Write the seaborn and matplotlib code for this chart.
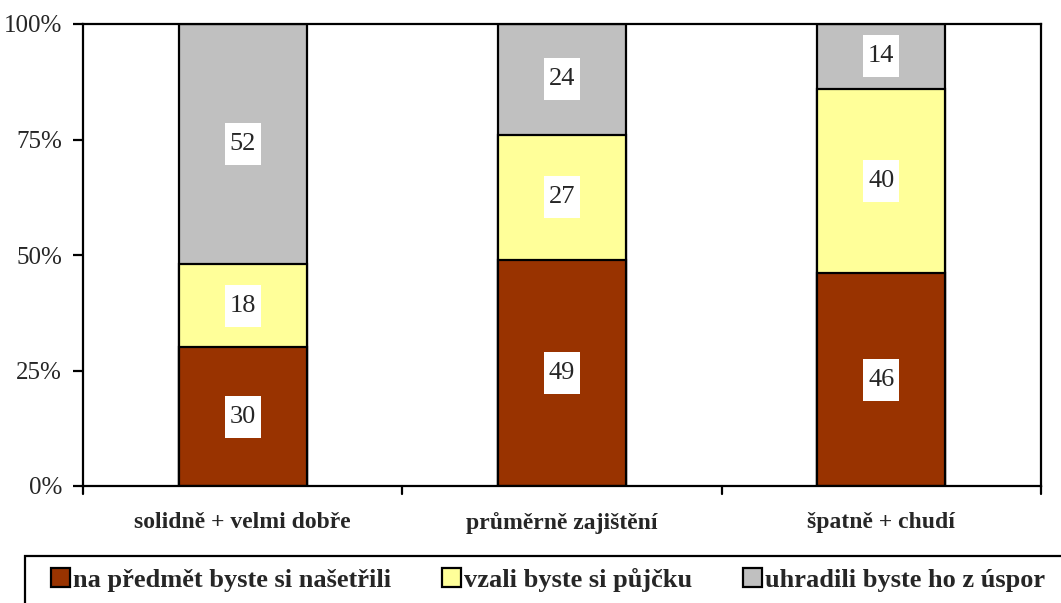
import numpy as np
import pandas as pd
import matplotlib
matplotlib.use("Agg")
import matplotlib.pyplot as plt
import seaborn as sns
from matplotlib.patches import Rectangle, Patch
from matplotlib.path import Path

categories = ["solidně + velmi dobře", "průměrně zajištění", "špatně + chudí"]
series_names = ["na předmět byste si našetřili", "vzali byste si půjčku", "uhradili byste ho z úspor"]
saved = [30, 49, 46]
loan = [18, 27, 40]
savings = [52, 24, 14]
colors = ["#993300", "#FFFF99", "#C0C0C0"]
ytick_vals = [0, 25, 50, 75, 100]
ytick_labels = ["0%", "25%", "50%", "75%", "100%"]

sns.set_style("white")
plt.rcParams["font.family"] = ["Liberation Serif", "DejaVu Serif"]

W, H = 1061, 603
fig = plt.figure(figsize=(W / 100, H / 100), dpi=100)
ax = fig.add_axes([83 / W, 1 - 486 / H, (1041 - 83) / W, (486 - 24) / H])

vals = np.array([saved, loan, savings], dtype=float)
totals = vals.sum(axis=0)
pct = vals / totals * 100
cum = np.cumsum(pct, axis=0)

# draw from top layer down so lower segments overlay the taller bars
for i in [2, 1, 0]:
    df = pd.DataFrame({"cat": categories, "val": cum[i]})
    sns.barplot(data=df, x="cat", y="val", color=colors[i], saturation=1,
                width=0.4, edgecolor="black", linewidth=1.6, ax=ax, zorder=2)


def tall_box(x0, y0, width, height, mutation_size):
    px = 0.18 * mutation_size
    py = 0.38 * mutation_size
    xa, xb = x0 - px, x0 + width + px
    ya, yb = y0 - py, y0 + height + py
    return Path([(xa, ya), (xb, ya), (xb, yb), (xa, yb), (xa, ya)], closed=True)


# labels in white boxes
for i, arr in enumerate([saved, loan, savings]):
    for j, v in enumerate(arr):
        mid = cum[i, j] - pct[i, j] / 2
        ax.text(j, mid, f"{v}", ha="center", va="center", fontsize=19,
                bbox=dict(boxstyle=tall_box, facecolor="white", edgecolor="none"),
                zorder=5)

ax.set_ylim(0, 100)
ax.set_xlim(-0.5, 2.5)
ax.set_yticks(ytick_vals)
ax.set_yticklabels(ytick_labels, fontsize=18)
ax.set_xticks([0, 1, 2])
ax.set_xticklabels(categories, fontsize=17, fontweight="bold")
ax.tick_params(axis="x", length=0, pad=19)
ax.tick_params(axis="y", length=7, width=1.6, pad=8, left=True, direction="out", color="black")
# boundary ticks on the x axis
for xb in [-0.5, 0.5, 1.5, 2.5]:
    ax.plot([xb, xb], [0, -1.8], color="black", lw=1.6, clip_on=False, zorder=3)
ax.set_xlabel("")
ax.set_ylabel("")
for s in ax.spines.values():
    s.set_color("black")
    s.set_linewidth(1.6)
    s.set_visible(True)

# legend box
fig.patches.append(Rectangle((25 / W, -0.1), 1.2, (603 - 556) / H + 0.1,
                             transform=fig.transFigure, facecolor="white",
                             edgecolor="black", linewidth=1.6, zorder=0))
handles = [Patch(facecolor=c, edgecolor="black", linewidth=1.6) for c in colors]
leg = fig.legend(handles, series_names, loc="center left",
                 bbox_to_anchor=(51 / W, 1 - 580 / H), ncol=3, frameon=False,
                 prop={"weight": "bold", "size": 19}, handlelength=0.72,
                 handleheight=0.72, handletextpad=0.1, columnspacing=1.95,
                 borderpad=0, borderaxespad=0)

fig.savefig("out.png", dpi=100)
